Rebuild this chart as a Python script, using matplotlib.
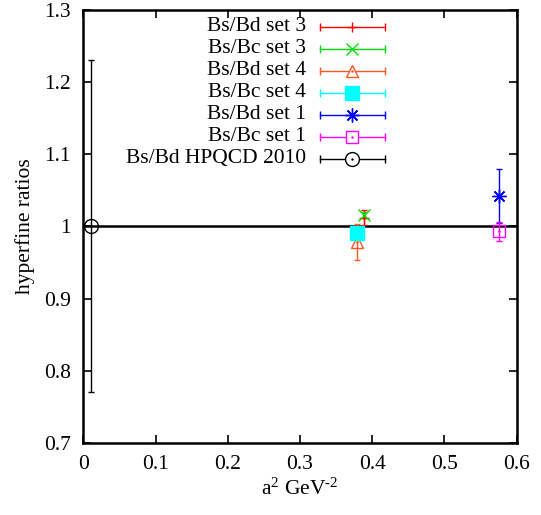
import matplotlib
matplotlib.use("Agg")
import matplotlib.pyplot as plt

plt.rcParams['font.family'] = ['Liberation Serif', 'DejaVu Serif']
plt.rcParams['mathtext.fontset'] = 'custom'
plt.rcParams['mathtext.rm'] = 'Liberation Serif'
plt.rcParams['mathtext.it'] = 'Liberation Serif'

# --- data ---
labels = ['Bs/Bd set 3', 'Bs/Bc set 3', 'Bs/Bd set 4', 'Bs/Bc set 4',
          'Bs/Bd set 1', 'Bs/Bc set 1', 'Bs/Bd HPQCD 2010']
a2 = [0.388, 0.389, 0.379, 0.379, 0.575, 0.575, 0.010]
ratio = [1.012, 1.016, 0.978, 0.991, 1.042, 0.993, 1.000]
err = [0.010, 0.004, 0.025, 0.004, 0.037, 0.013, 0.230]

# styles (gnuplot look)
colors = ['#ff0000', '#00dd00', '#ff5522', '#00ffff', '#0000ff', '#ff00ff', '#000000']
markers = ['+', 'x', '^', 's', (8, 2, 0), 's', 'o']
msizes = [7, 9, 8, 9.5, 10, 9, 10]
filled = [True, True, False, True, True, False, False]

FS = 15.5

fig, ax = plt.subplots(figsize=(5.41, 5.15), dpi=100)
fig.subplots_adjust(left=0.154, right=0.955, top=0.981, bottom=0.140)

ax.axhline(1.0, color='black', lw=1.8, zorder=1)

for i in range(len(labels)):
    fc = colors[i] if filled[i] else 'none'
    ax.errorbar(a2[i], ratio[i], yerr=err[i], fmt='none', ecolor=colors[i],
                elinewidth=1, capsize=2.5, capthick=1, zorder=2)
    ax.plot(a2[i], ratio[i], linestyle='none', marker=markers[i], ms=msizes[i],
            mfc=fc, mec=colors[i], mew=1, zorder=3)
    if not filled[i]:
        ax.plot(a2[i], ratio[i], linestyle='none', marker='.', ms=1.5,
                color=colors[i], zorder=3)

# gnuplot style key: text right aligned, horizontal error bar sample
tx, lx0, lx1, mx = 0.514, 0.546, 0.696, 0.620
y0, dy = 0.961, 0.0508
for i, lab in enumerate(labels):
    y = y0 - i * dy
    ax.text(tx, y, lab, transform=ax.transAxes, ha='right', va='center', fontsize=FS)
    ax.plot([lx0, lx1], [y, y], transform=ax.transAxes, color=colors[i], lw=1, clip_on=False)
    ax.plot([lx0, lx1], [y, y], transform=ax.transAxes, linestyle='none', marker='|',
            ms=6, mew=1, color=colors[i], clip_on=False)
    fc = colors[i] if filled[i] else 'white'
    ax.plot([mx], [y], transform=ax.transAxes, linestyle='none', marker=markers[i],
            ms=msizes[i], mfc=fc, mec=colors[i], mew=1, clip_on=False)
    if not filled[i]:
        ax.plot([mx], [y], transform=ax.transAxes, linestyle='none', marker='.', ms=1.5,
                color=colors[i], clip_on=False)

ax.set_xlim(0, 0.6)
ax.set_ylim(0.7, 1.3)
ax.set_xticks([0, 0.1, 0.2, 0.3, 0.4, 0.5, 0.6])
ax.set_xticklabels(['0', '0.1', '0.2', '0.3', '0.4', '0.5', '0.6'])
ax.set_yticks([0.7, 0.8, 0.9, 1.0, 1.1, 1.2, 1.3])
ax.set_yticklabels(['0.7', '0.8', '0.9', '1', '1.1', '1.2', '1.3'])
ax.tick_params(direction='in', top=True, right=True, length=6, width=1.2,
               labelsize=FS, pad=9)
for s in ax.spines.values():
    s.set_linewidth(1.8)

ax.set_xlabel(r'a$^{2}$ GeV$^{\text{-2}}$', fontsize=FS, labelpad=3)
ax.set_ylabel('hyperfine ratios', fontsize=FS, labelpad=6)

fig.savefig('out.png', dpi=100)
